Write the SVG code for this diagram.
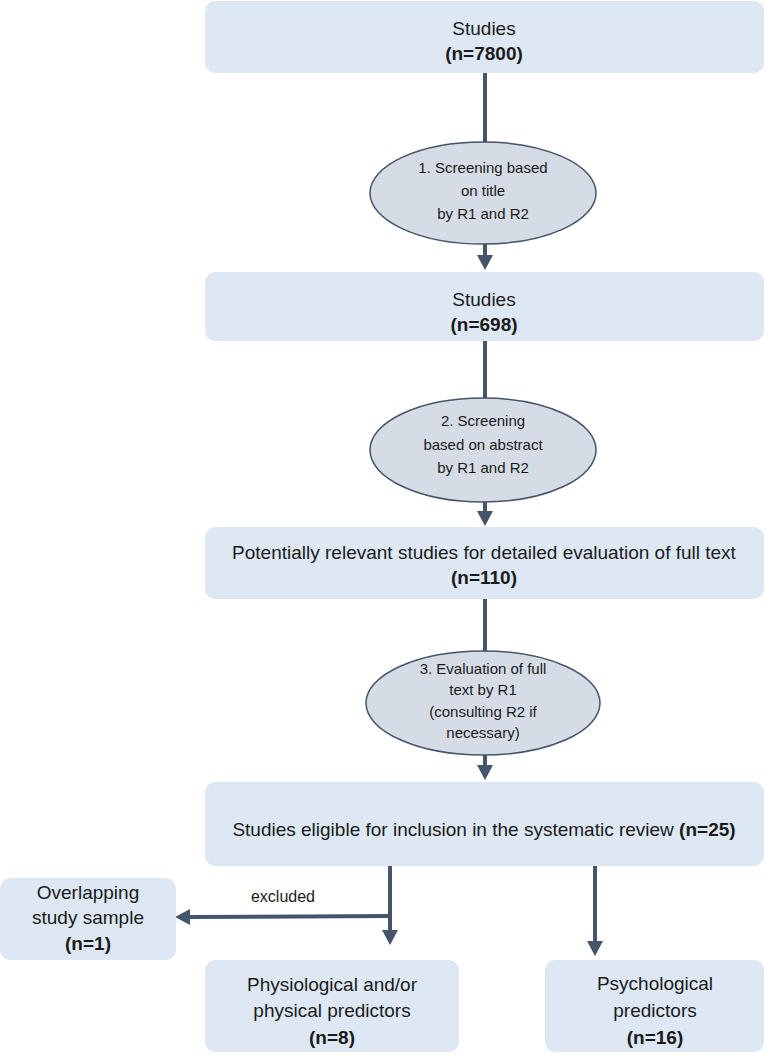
<svg xmlns="http://www.w3.org/2000/svg" width="767" height="1056" viewBox="0 0 767 1056">
<style>
.box{fill:#dde8f4;}
.ell{fill:#d6dce5;stroke:#44546a;stroke-width:1.5;}
.t{font-family:"Liberation Sans",Arial,sans-serif;font-size:19px;fill:#1a1a1a;text-anchor:middle;}
.b{font-weight:bold;}
.s{font-family:"Liberation Sans",Arial,sans-serif;font-size:15px;fill:#1a1a1a;text-anchor:middle;}
.c{stroke:#44546a;stroke-width:4;fill:none;}
.ah{fill:#44546a;}
</style>
<rect width="767" height="1056" fill="#ffffff"/>
<g id="connectors">
<line class="c" x1="485" y1="73" x2="485" y2="142"/>
<line class="c" x1="485" y1="244" x2="485" y2="257"/>
<polygon class="ah" points="477,255 493,255 485,270"/>
<line class="c" x1="485" y1="341" x2="485" y2="398"/>
<line class="c" x1="485" y1="502" x2="485" y2="513"/>
<polygon class="ah" points="477,511 493,511 485,526"/>
<line class="c" x1="485" y1="599" x2="485" y2="651"/>
<line class="c" x1="485" y1="755" x2="485" y2="767"/>
<polygon class="ah" points="477,765 493,765 485,780"/>
<line class="c" x1="390" y1="866" x2="390" y2="932"/>
<polygon class="ah" points="382,930 398,930 390,945"/>
<line class="c" x1="595" y1="866" x2="595" y2="943"/>
<polygon class="ah" points="587,941 603,941 595,956"/>
<line class="c" x1="392" y1="916" x2="188" y2="917"/>
<polygon class="ah" points="190,909 190,925 175,917"/>
<text class="s" x="283" y="902" style="font-size:16px">excluded</text>
</g>
<g id="n1">
<rect class="box" x="205" y="1" width="559" height="72" rx="10"/>
<text class="t" x="484" y="35">Studies</text>
<text class="t b" x="484" y="60">(n=7800)</text>
</g>
<g id="e1">
<ellipse class="ell" cx="483" cy="193" rx="113" ry="51"/>
<text class="s" x="483" y="173">1. Screening based</text>
<text class="s" x="483" y="196">on title</text>
<text class="s" x="483" y="219">by R1 and R2</text>
</g>
<g id="n2">
<rect class="box" x="205" y="272" width="559" height="69" rx="10"/>
<text class="t" x="484" y="306">Studies</text>
<text class="t b" x="484" y="331">(n=698)</text>
</g>
<g id="e2">
<ellipse class="ell" cx="483" cy="450" rx="113" ry="52"/>
<text class="s" x="483" y="426">2. Screening</text>
<text class="s" x="483" y="450">based on abstract</text>
<text class="s" x="483" y="473">by R1 and R2</text>
</g>
<g id="n3">
<rect class="box" x="205" y="527" width="559" height="72" rx="10"/>
<text class="t" x="484" y="559">Potentially relevant studies for detailed evaluation of full text</text>
<text class="t b" x="484" y="584">(n=110)</text>
</g>
<g id="e3">
<ellipse class="ell" cx="483" cy="703" rx="117" ry="52"/>
<text class="s" x="483" y="674">3. Evaluation of full</text>
<text class="s" x="483" y="695">text by R1</text>
<text class="s" x="483" y="717">(consulting R2 if</text>
<text class="s" x="483" y="738">necessary)</text>
</g>
<g id="n4">
<rect class="box" x="205" y="782" width="559" height="84" rx="10"/>
<text class="t" x="484" y="836">Studies eligible for inclusion in the systematic review <tspan class="b">(n=25)</tspan></text>
</g>
<g id="n5">
<rect class="box" x="0" y="878" width="176" height="82" rx="10"/>
<text class="t" x="88" y="899">Overlapping</text>
<text class="t" x="88" y="924">study sample</text>
<text class="t b" x="88" y="950">(n=1)</text>
</g>
<g id="n6">
<rect class="box" x="205" y="960" width="254" height="92" rx="10"/>
<text class="t" x="332" y="991">Physiological and/or</text>
<text class="t" x="332" y="1017">physical predictors</text>
<text class="t b" x="332" y="1044">(n=8)</text>
</g>
<g id="n7">
<rect class="box" x="545" y="960" width="219" height="92" rx="10"/>
<text class="t" x="655" y="990">Psychological</text>
<text class="t" x="655" y="1017">predictors</text>
<text class="t b" x="655" y="1044">(n=16)</text>
</g>
</svg>
